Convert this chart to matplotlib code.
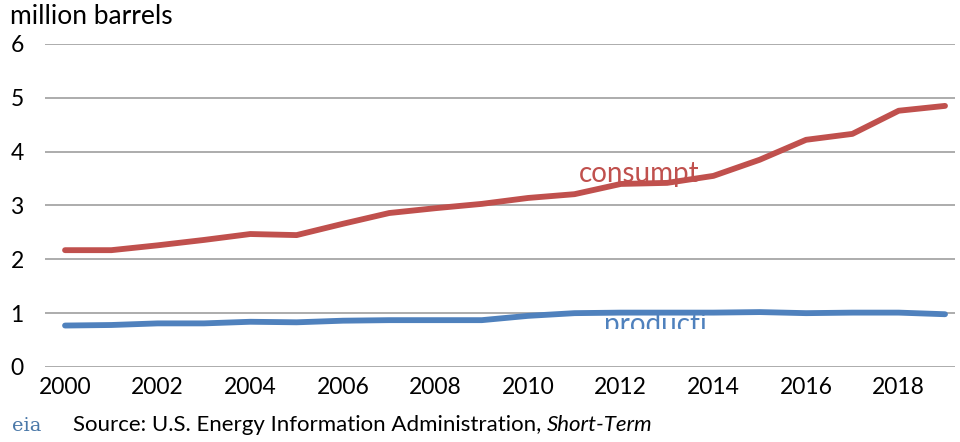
import matplotlib
matplotlib.use('Agg')
import matplotlib.pyplot as plt
from matplotlib.transforms import Bbox, TransformedBbox

# data
years = list(range(2000, 2020))
consumption = [2.17, 2.17, 2.26, 2.36, 2.47, 2.45, 2.66, 2.86, 2.95, 3.03,
               3.14, 3.21, 3.40, 3.42, 3.55, 3.85, 4.22, 4.33, 4.76, 4.85]
production = [0.77, 0.78, 0.81, 0.81, 0.84, 0.83, 0.86, 0.87, 0.87, 0.87,
              0.95, 1.00, 1.01, 1.01, 1.01, 1.02, 1.00, 1.01, 1.01, 0.98]
xticks = list(range(2000, 2019, 2))
yticks = [0, 1, 2, 3, 4, 5, 6]

red = '#C0504D'
blue = '#4F81BD'
plt.rcParams['font.family'] = ['Lato', 'DejaVu Sans']

fig = plt.figure(figsize=(9.6, 4.42), dpi=100)
ax = fig.add_axes([0.047, 0.1697, 0.948, 0.7308])

ax.plot(years, consumption, color=red, lw=4.2, solid_capstyle='round', zorder=3)
ax.plot(years, production, color=blue, lw=4.2, solid_capstyle='round', zorder=3)

ax.set_xlim(1999.57, 2019.22)
ax.set_ylim(0, 6)
ax.set_xticks(xticks)
ax.set_yticks(yticks)
ax.yaxis.grid(True, color='#A6A6A6', lw=1.3)
ax.set_axisbelow(True)
for s in ax.spines.values():
    s.set_visible(False)
ax.tick_params(axis='both', length=0, labelsize=16.5, colors='black')
ax.tick_params(axis='y', pad=25)
ax.tick_params(axis='x', pad=7)
for lab in ax.get_yticklabels():
    lab.set_horizontalalignment('left')

ax.text(2012.4, 3.44, 'consumpt', color=red, fontsize=20, ha='center', va='baseline')
# label cut off at the bottom, as in the original
t = ax.text(2012.75, 0.63, 'producti', color=blue, fontsize=20, ha='center', va='baseline')
t.set_clip_on(True)
t.set_clip_box(TransformedBbox(Bbox([[2011, 0.71], [2015, 1.3]]), ax.transData))

fig.text(0.01, 0.99, 'million barrels', fontsize=19, va='top', ha='left')
fig.text(0.012, 0.036, 'eia', family='DejaVu Serif', fontsize=14, color='#4A78A8',
         va='center', ha='left')
src = fig.text(0.076, 0.038, 'Source: U.S. Energy Information Administration, ', fontsize=16,
               va='center', ha='left')
fig.canvas.draw()
bb = src.get_window_extent().transformed(fig.transFigure.inverted())
fig.text(bb.x1, 0.038, 'Short-Term', fontsize=16, style='italic', va='center', ha='left')

fig.savefig('out.png', dpi=100)
